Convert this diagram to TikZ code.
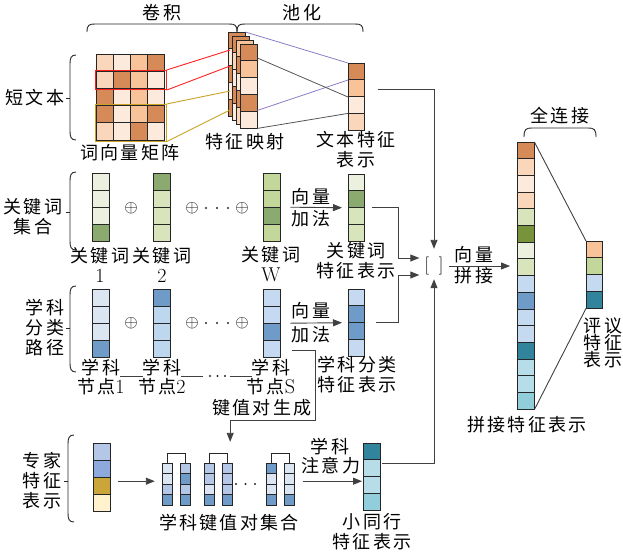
\documentclass[tikz,border=0pt]{standalone}
\usepackage{fontspec}
\newfontfamily\cjk[LetterSpace=12]{Noto Sans CJK SC}
\newcommand\lat[1]{{\rmfamily\fontsize{20}{20}\selectfont #1}}
\usetikzlibrary{arrows.meta,calc,fit}
\definecolor{pD}{HTML}{D68A58}
\definecolor{pM}{HTML}{F8C398}
\definecolor{pL}{HTML}{FAD7BA}
\definecolor{pVL}{HTML}{FCEADD}
\definecolor{gVL}{HTML}{EBF1DE}
\definecolor{gL}{HTML}{D8E4BC}
\definecolor{gM}{HTML}{C4D79B}
\definecolor{gD}{HTML}{8AAA70}
\definecolor{gDD}{HTML}{77933C}
\definecolor{bVL}{HTML}{DCE6F2}
\definecolor{bL}{HTML}{C5D9F1}
\definecolor{bLL}{HTML}{BDD7EE}
\definecolor{bM}{HTML}{6E9BC8}
\definecolor{bP}{HTML}{B4C7E7}
\definecolor{tD}{HTML}{31849B}
\definecolor{tL}{HTML}{B7DEE8}
\definecolor{tM}{HTML}{92CDDC}
\definecolor{eP}{HTML}{8EA9DB}
\definecolor{eG}{HTML}{C9A53A}
\definecolor{eC}{HTML}{FFF2CC}
\definecolor{redc}{HTML}{FF2020}
\definecolor{goldc}{HTML}{C9A227}
\definecolor{purc}{HTML}{8E7CC3}
\definecolor{grayc}{HTML}{555555}
% name, x, ytop, width, cell height, n, colours
\newcommand\vecstack[7]{%
  \foreach \cc [count=\ii from 0] in {#7}{
    \filldraw[cell, fill=\cc] (#2,{#3+\ii*#5}) rectangle ++(#4,#5);
  }
  \node[inner sep=0pt, minimum width=#4pt, minimum height={#5*#6*1pt}, anchor=north west] (#1) at (#2,#3) {};
}
\newcommand\topbrace[4]{\draw[brc] (#1,#4) .. controls (#1,#3+1) and (#1+2,#3) .. (#1+8,#3) -- (#2-8,#3) .. controls (#2-2,#3) and (#2,#3+1) .. (#2,#4);}
\newcommand\sidebrace[4]{%
  \draw[brc] (#1+6,#2) .. controls (#1+1,#2) and (#1,#2+3) .. (#1,#2+9) -- (#1,#3-9) .. controls (#1,#3-3) and (#1+1,#3) .. (#1+6,#3);
  \draw[brc] (#1-4,#4) -- (#1,#4);}
% name, x, colours a, colours b
\newcommand\kvpair[4]{%
  \vecstack{#1a}{#2}{463}{10}{10.5}{4}{#3}
  \vecstack{#1b}{#2+18}{463}{10}{10.5}{4}{#4}
  \draw[brc] (#1a.north) -- ++(0pt,10pt) -| (#1b.north);
}
\begin{document}
\begin{tikzpicture}[x=1pt,y=-1pt,
  font=\fontsize{18}{20}\selectfont,
  cn/.style={font=\fontsize{18}{20}\selectfont\cjk, inner sep=0pt, align=center},
  mt/.style={font=\fontsize{16}{18}\selectfont, inner sep=0pt},
  cell/.style={draw=black!85, line width=0.9pt},
  conn/.style={draw=black!75, line width=0.9pt},
  arr/.style={-{Triangle[length=9pt,width=7pt]}},
  brc/.style={draw=black!85, line width=0.9pt},
  dot/.style={fill=black!85},
]
\useasboundingbox (0,0) rectangle (623,558);

%% ---------- top: short text ----------
\node[cn] (lconv) at (162,13) {卷积};
\node[cn] (lpool) at (302,13) {池化};
\topbrace{87}{237}{24}{32}
\topbrace{237}{363}{24}{32}
\sidebrace{70}{55}{140}{98}
\node[cn] (lshort) at (35,98) {短文本};

% word vector matrix
\vecstack{wm1}{96}{54}{17}{17.2}{5}{pL,pL,pD,pD,pL}
\vecstack{wm2}{113}{54}{17}{17.2}{5}{pVL,pD,pVL,pVL,pVL}
\vecstack{wm3}{130}{54}{17}{17.2}{5}{pM,pM,pM,pM,pD}
\vecstack{wm4}{147}{54}{17}{17.2}{5}{pD,pVL,pVL,pD,pVL}
\node[draw=redc, line width=1.1pt, inner sep=0pt, minimum width=70.5pt, minimum height=19pt, anchor=north west] (redbox) at (95,70) {};
\node[draw=goldc, line width=1.1pt, inner sep=0pt, minimum width=70.5pt, minimum height=36.5pt, anchor=north west] (goldbox) at (95,104) {};
\node[cn] (lwvm) at (130,153) {词向量矩阵};

% feature maps (back to front)
\vecstack{fmA}{228}{32}{17}{16.8}{5}{pD,pVL,pD,pVL,pD}
\vecstack{fmB}{232}{36}{17}{16.8}{5}{pD,pL,pVL,pD,pVL}
\vecstack{fmC}{236}{40}{17}{16.8}{5}{pM,pD,pVL,pD,pL}
\draw[redc, line width=0.9pt] (redbox.north east) -- ([shift={(2pt,-18pt)}]fmA.north west);
\draw[redc, line width=0.9pt] (redbox.south east) -- ([shift={(2pt,-34pt)}]fmA.north west);
\draw[goldc, line width=0.9pt] (goldbox.north east) -- ([shift={(2pt,-59pt)}]fmA.north west);
\draw[goldc, line width=0.9pt] (goldbox.south east) -- ([shift={(2pt,-78pt)}]fmA.north west);
\vecstack{fm}{240}{44}{17}{16.8}{5}{pD,pM,pVL,pD,pVL}
\node[cn] (lfm) at (245,142) {特征映射};

% text feature
\vecstack{txt}{348}{63}{16}{16.75}{4}{pD,pM,pVL,pL}
\draw[purc, line width=0.8pt] (fmA.north east) -- (txt.north west);
\draw[purc, line width=0.8pt] ([yshift=18pt]fm.south east) -- ([yshift=-17pt]txt.north west);
\draw[grayc, line width=0.8pt] ([yshift=-14pt]fm.north east) -- ([yshift=-34pt]txt.north west);
\draw[grayc, line width=0.8pt] (fm.south east) -- ([yshift=17pt]txt.south west);
\node[cn] (ltxt) at (356,150) {文本特征\\表示};

%% ---------- keywords ----------
\sidebrace{70}{172}{250}{212}
\node[cn] (lkwset) at (33,217) {关键词\\集合};
\vecstack{kw1}{92}{173}{17}{17}{4}{gVL,gVL,gVL,gD}
\vecstack{kw2}{153}{173}{17}{17}{4}{gD,gL,gL,gL}
\vecstack{kwW}{263}{173}{17}{17}{4}{gM,gM,gD,gM}
\node[mt] (kp1) at (131,208) {$\oplus$};
\node[mt] (kp2) at (192,208) {$\oplus$};
\node[mt] (kp3) at (242,208) {$\oplus$};
\fill[dot] (206,208) circle (1.1pt) (217,208) circle (1.1pt) (228,208) circle (1.1pt);
\node[cn] (lkw1) at (100,264.5) {关键词\\\lat{1}};
\node[cn] (lkw2) at (162,264.5) {关键词\\\lat{2}};
\node[cn] (lkwW) at (271,264.5) {关键词\\\lat{W}};
\vecstack{kwf}{348}{174}{16}{16.75}{4}{gVL,gD,gL,gL}
\draw[conn,arr] ([xshift=10pt]kwW.east) -- ([xshift=-6pt]kwf.west);
\node[cn] (lkadd1) at (311,197) {向量};
\node[cn] (lkadd2) at (311,219) {加法};
\node[cn] (lkwf) at (356,261) {关键词\\特征表示};

%% ---------- subject path ----------
\sidebrace{70}{286}{372}{328}
\node[cn] (lsub) at (45,328) {学科\\分类\\路径};
\vecstack{s1}{92}{289}{17}{17}{4}{bVL,bVL,bVL,bM}
\vecstack{s2}{153}{289}{17}{17}{4}{bM,bLL,bLL,bLL}
\vecstack{sS}{263}{289}{17}{17}{4}{bL,bL,bM,bL}
\node[mt] (sp1) at (131,323) {$\oplus$};
\node[mt] (sp2) at (192,323) {$\oplus$};
\node[mt] (sp3) at (242,323) {$\oplus$};
\fill[dot] (206,323) circle (1.1pt) (217,323) circle (1.1pt) (228,323) circle (1.1pt);
\node[cn] (st1) at (101,368) {学科};
\node[cn] (st2) at (162,368) {学科};
\node[cn] (stS) at (271,368) {学科};
\node[cn] (sn1) at (101,387) {节点\lat{1}};
\node[cn] (sn2) at (162,387) {节点\lat{2}};
\node[cn] (snS) at (271,387) {节点\lat{S}};
\draw[conn] ([yshift=-8pt]st1.east) -- ([yshift=-8pt]st2.west);
\draw[conn] ([yshift=-8pt]st2.east) -- ++(22pt,0pt);
\fill[dot] (210,376) circle (1.1pt) (217.5,376) circle (1.1pt) (225,376) circle (1.1pt);
\draw[conn] ([shift={(-22pt,-8pt)}]stS.west) -- ([yshift=-8pt]stS.west);
\vecstack{sbf}{348}{289}{16}{16.75}{4}{bL,bM,bM,bL}
\draw[conn,arr] ([xshift=10pt]sS.east) -- ([xshift=-6pt]sbf.west);
\node[cn] (lsadd1) at (311,311) {向量};
\node[cn] (lsadd2) at (311,335) {加法};
\node[cn] (lsbf) at (357,375) {学科分类\\特征表示};
\node[cn] (lkvgen) at (262,408) {键值对生成};

%% ---------- expert ----------
\sidebrace{68}{435}{522}{481}
\node[cn] (lexp) at (42,481) {专家\\特征\\表示};
\vecstack{exp}{93}{443}{17}{17}{4}{bP,eP,eG,eC}
\kvpair{pa}{162}{bVL,bVL,bP,bM}{bP,bM,bP,bM}
\kvpair{pb}{204}{bP,bP,bVL,bM}{bP,bP,bP,bM}
\kvpair{pc}{266}{bM,bVL,bVL,bM}{bVL,bVL,bVL,bM}
\fill[dot] (236,484) circle (1.1pt) (245.5,484) circle (1.1pt) (255,484) circle (1.1pt);
\coordinate (kvtop) at ([yshift=10pt]paa.north);
\node[inner sep=0pt, fit={(paa) (pcb) (kvtop)}] (kvset) {};
\node[cn] (lkvset) at (229,523) {学科键值对集合};
\draw[conn,arr] ([shift={(8pt,-4pt)}]exp.east) -- ([shift={(-7pt,-2pt)}]kvset.west);
\draw[conn,arr,shorten >=11pt] ([shift={(12pt,7pt)}]sS.south east) -- ++(23pt,0pt) -- ++(0pt,-70pt) -| ([xshift=2pt]kvset.north);
\vecstack{peer}{363}{443}{17}{16.75}{4}{tD,tL,tL,tM}
\draw[conn,arr] ([shift={(8pt,-2pt)}]kvset.east) -- ([shift={(-1pt,-4.5pt)}]peer.west);
\node[cn] (latt1) at (330,447) {学科};
\node[cn] (latt2) at (331,466) {注意力};
\node[cn] (lpeer) at (372,532) {小同行\\特征表示};

%% ---------- concat ----------
\node[inner sep=0pt, minimum height=26pt, font=\fontsize{18}{20}\selectfont] (cat) at (434,266) {[\hspace{10pt}]};
\draw[conn,arr,shorten >=4pt] ([shift={(14pt,7.5pt)}]txt.east) -| (cat.north);
\draw[conn,arr,shorten >=5pt] ([xshift=8pt]kwf.east) -- ++(26pt,0pt) |- ([yshift=8pt]cat.west);
\draw[conn,arr,shorten >=5pt] ([xshift=12pt]sbf.east) -- ++(22pt,0pt) |- ([yshift=-9pt]cat.west);
\draw[conn,arr] ([shift={(2pt,13.5pt)}]peer.east) -| (cat.south);

\vecstack{catvec}{517}{142}{17}{16.7}{16}{pD,pL,pVL,pL,gL,gDD,gVL,gL,bL,bM,bL,bL,tD,tL,tL,tM}
\draw[conn,arr,shorten >=7pt] ([xshift=5pt]cat.east) -- (catvec.west |- cat.east);
\node[cn] (lcat1) at (474,255) {向量};
\node[cn] (lcat2) at (474,276) {拼接};
\node[cn] (lcatvec) at (527,425) {拼接特征表示};

\topbrace{524}{596}{128}{137}
\node[cn] (lfc) at (560,116) {全连接};
\vecstack{final}{586}{241}{16.5}{16.75}{4}{pM,gM,bL,tD}
\draw[conn] (catvec.north east) -- (final.north west);
\draw[conn] (catvec.south east) -- (final.south west);
\node[cn, font=\fontsize{18}{17}\selectfont\cjk] (lfinal) at (603,343) {评议\\特征\\表示};
\end{tikzpicture}
\end{document}
